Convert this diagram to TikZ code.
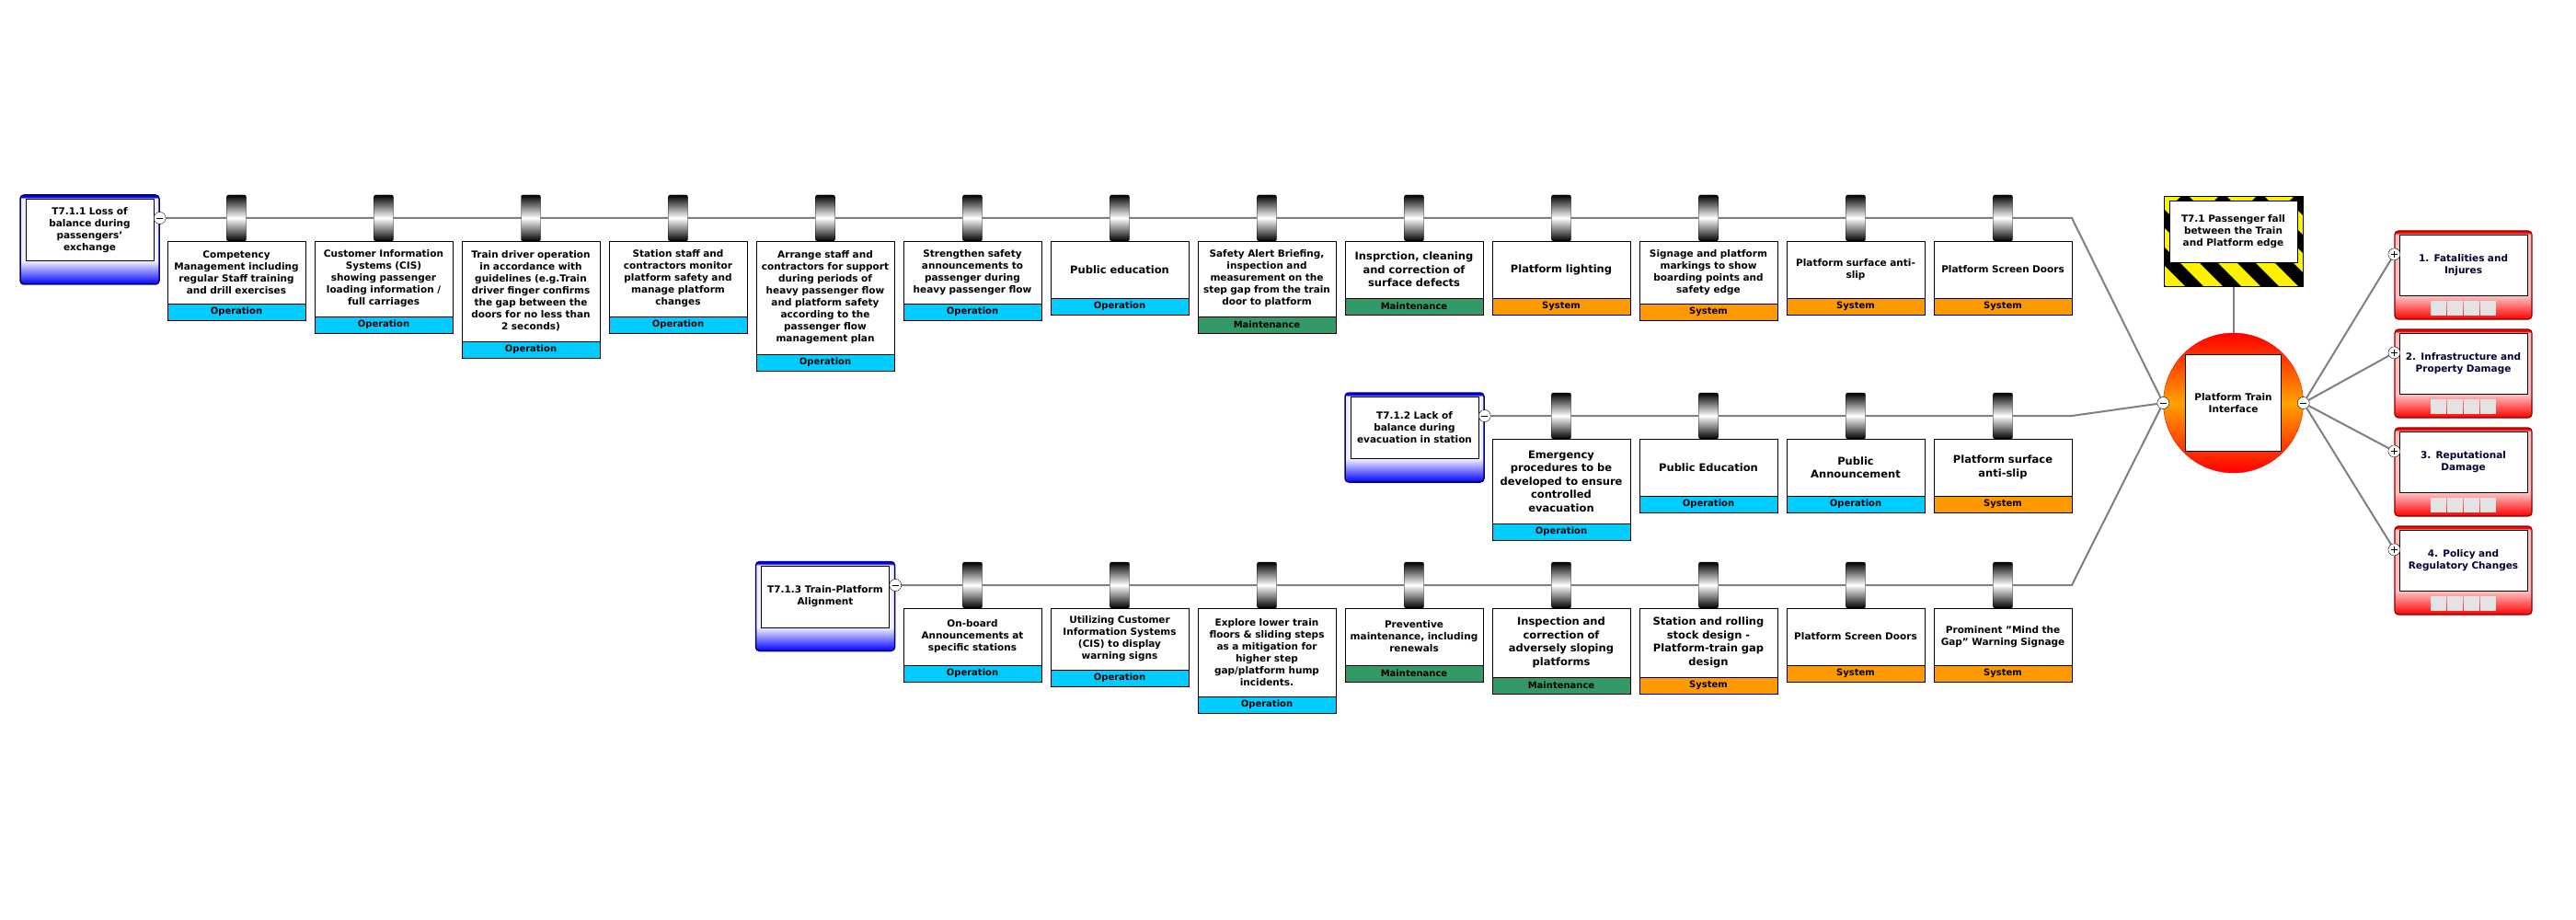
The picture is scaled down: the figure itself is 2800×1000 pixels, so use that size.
\documentclass[tikz,border=0pt]{standalone}
\usepackage{fontspec}
\setmainfont{DejaVu Sans}
\usepackage{xcolor}
\usetikzlibrary{positioning,backgrounds}

\definecolor{opcyan}{HTML}{00CCFF}
\definecolor{mtgreen}{HTML}{339966}
\definecolor{sysorange}{HTML}{FF9900}
\definecolor{wiregray}{HTML}{808080}
\definecolor{topmid}{HTML}{FFA200}
\definecolor{conseqink}{HTML}{000033}

\pgfdeclareverticalshading{threatshade}{100bp}{color(0bp)=(blue); color(25bp)=(blue); color(38bp)=(blue!6); color(73bp)=(blue!6); color(74bp)=(blue); color(100bp)=(blue)}
\pgfdeclareverticalshading{conseqshade}{100bp}{color(0bp)=(red); color(25bp)=(red); color(38bp)=(red!25); color(73bp)=(red!25); color(74bp)=(red); color(100bp)=(red)}

\begin{document}
\begin{tikzpicture}[
    x=1pt, y=-1pt,
    wire/.style={draw=wiregray, line width=2pt},
    drum/.style={draw, minimum width=21pt, minimum height=50pt, inner sep=0pt, outer sep=0pt,
      rounded corners=2pt, top color=black, bottom color=black, middle color=white},
    ctrl/.style={draw, fill=white, text width=144pt, minimum height=#1, inner sep=3pt, outer sep=0pt,
      align=center, font=\bfseries\fontsize{10.5}{13}\selectfont},
    ctrl/.default=62pt,
    bigtext/.style={font=\bfseries\fontsize{11.5}{14.5}\selectfont},
    tagbox/.style={draw, fill=#1, minimum width=150pt, minimum height=18pt, inner sep=0pt, outer sep=0pt,
      font=\bfseries\fontsize{10}{12}\selectfont},
    oper/.style={tagbox=opcyan},
    maint/.style={tagbox=mtgreen},
    sysm/.style={tagbox=sysorange},
    threat/.style={draw=blue!45!black, line width=1.5pt, rounded corners=4pt, shading=threatshade,
      minimum width=151pt, minimum height=97pt, inner sep=0pt},
    threattxt/.style={draw, fill=white, text width=133pt, minimum height=67pt, inner sep=3pt, outer sep=0pt,
      align=center, font=\bfseries\fontsize{10.5}{13}\selectfont},
    hazard/.style={draw, line width=1pt, fill=yellow, minimum width=151pt, minimum height=98pt, inner sep=0pt,
      path picture={\foreach \s in {0,...,7}
        \draw[black, line width=14pt] ([xshift=\s*41pt-105pt]path picture bounding box.north west) -- ++(110pt,-110pt);}},
    topevent/.style={circle, draw=red, minimum size=152pt, inner sep=0pt,
      top color=red, bottom color=red, middle color=topmid},
    toptxt/.style={draw, fill=white, minimum width=104pt, minimum height=105pt, inner sep=2pt,
      align=center, font=\bfseries\fontsize{10.5}{13}\selectfont},
    conseq/.style={draw=red!50!black, line width=1.2pt, rounded corners=4pt, shading=conseqshade,
      minimum width=149pt, minimum height=96pt, inner sep=0pt,
      path picture={\foreach \i in {0,...,3}
        \fill[gray!22, sharp corners] ([xshift=\i*18pt-35.5pt, yshift=4pt]path picture bounding box.south) rectangle ++(17pt,16pt);}},
    conseqtxt/.style={draw, fill=white, text width=133pt, minimum height=66pt, inner sep=3pt, outer sep=0pt,
      align=center, text=conseqink, font=\bfseries\fontsize{10.5}{13}\selectfont},
    collapse/.style={circle, draw, fill=white, minimum size=13pt, inner sep=0pt,
      path picture={\draw ([xshift=3pt]path picture bounding box.west) -- ([xshift=-3pt]path picture bounding box.east);}},
    expand/.style={circle, draw, fill=white, minimum size=13pt, inner sep=0pt,
      path picture={\draw ([xshift=3pt]path picture bounding box.west) -- ([xshift=-3pt]path picture bounding box.east);
        \draw ([yshift=-3pt]path picture bounding box.north) -- ([yshift=3pt]path picture bounding box.south);}},
  ]
  \begin{scope}[on background layer]
    \fill[white] (0,0) rectangle (2800,1000);
  \end{scope}
  \useasboundingbox (0,0) rectangle (2800,1000);

  % Threat T7.1.1 and its barriers
  \node[threat] (t1) at (97.5,260.5) {};
  \node[threattxt, below=5pt of t1.north] (t1txt) {T7.1.1 Loss of\\balance during\\passengers'\\exchange};

  \node[drum] (a1) at (257,237) {};
  \node[ctrl=68pt, below=0pt of a1] (a1box) {Competency\\Management including\\regular Staff training\\and drill exercises};
  \node[oper, below=0pt of a1box] (a1tag) {Operation};

  \node[drum] (a2) at (417,237) {};
  \node[ctrl=82pt, below=0pt of a2] (a2box) {Customer Information\\Systems (CIS)\\showing passenger\\loading information /\\full carriages};
  \node[oper, below=0pt of a2box] (a2tag) {Operation};

  \node[drum] (a3) at (577,237) {};
  \node[ctrl=109pt, below=0pt of a3] (a3box) {Train driver operation\\in accordance with\\guidelines (e.g.Train\\driver finger confirms\\the gap between the\\doors for no less than\\2 seconds)};
  \node[oper, below=0pt of a3box] (a3tag) {Operation};

  \node[drum] (a4) at (737,237) {};
  \node[ctrl=82pt, below=0pt of a4] (a4box) {Station staff and\\contractors monitor\\platform safety and\\manage platform\\changes};
  \node[oper, below=0pt of a4box] (a4tag) {Operation};

  \node[drum] (a5) at (897,237) {};
  \node[ctrl=123pt, below=0pt of a5] (a5box) {Arrange staff and\\contractors for support\\during periods of\\heavy passenger flow\\and platform safety\\according to the\\passenger flow\\management plan};
  \node[oper, below=0pt of a5box] (a5tag) {Operation};

  \node[drum] (a6) at (1057,237) {};
  \node[ctrl=68pt, below=0pt of a6] (a6box) {Strengthen safety\\announcements to\\passenger during\\heavy passenger flow};
  \node[oper, below=0pt of a6box] (a6tag) {Operation};

  \node[drum] (a7) at (1217,237) {};
  \node[ctrl, bigtext, below=0pt of a7] (a7box) {Public education};
  \node[oper, below=0pt of a7box] (a7tag) {Operation};

  \node[drum] (a8) at (1377,237) {};
  \node[ctrl=82pt, below=0pt of a8] (a8box) {Safety Alert Briefing,\\inspection and\\measurement on the\\step gap from the train\\door to platform};
  \node[maint, below=0pt of a8box] (a8tag) {Maintenance};

  \node[drum] (a9) at (1537,237) {};
  \node[ctrl, bigtext, below=0pt of a9] (a9box) {Insprction, cleaning\\and correction of\\surface defects};
  \node[maint, below=0pt of a9box] (a9tag) {Maintenance};

  \node[drum] (a10) at (1697,237) {};
  \node[ctrl, bigtext, below=0pt of a10] (a10box) {Platform lighting};
  \node[sysm, below=0pt of a10box] (a10tag) {System};

  \node[drum] (a11) at (1857,237) {};
  \node[ctrl=68pt, below=0pt of a11] (a11box) {Signage and platform\\markings to show\\boarding points and\\safety edge};
  \node[sysm, below=0pt of a11box] (a11tag) {System};

  \node[drum] (a12) at (2017,237) {};
  \node[ctrl, below=0pt of a12] (a12box) {Platform surface anti-\\slip};
  \node[sysm, below=0pt of a12box] (a12tag) {System};

  \node[drum] (a13) at (2177,237) {};
  \node[ctrl, below=0pt of a13] (a13box) {Platform Screen Doors};
  \node[sysm, below=0pt of a13box] (a13tag) {System};

  % Threat T7.1.2 and its barriers
  \node[threat] (t2) at (1537.5,475.5) {};
  \node[threattxt, below=5pt of t2.north] (t2txt) {T7.1.2 Lack of\\balance during\\evacuation in station};

  \node[drum] (b1) at (1697,452) {};
  \node[ctrl=92pt, bigtext, below=0pt of b1] (b1box) {Emergency\\procedures to be\\developed to ensure\\controlled\\evacuation};
  \node[oper, below=0pt of b1box] (b1tag) {Operation};

  \node[drum] (b2) at (1857,452) {};
  \node[ctrl, bigtext, below=0pt of b2] (b2box) {Public Education};
  \node[oper, below=0pt of b2box] (b2tag) {Operation};

  \node[drum] (b3) at (2017,452) {};
  \node[ctrl, bigtext, below=0pt of b3] (b3box) {Public\\Announcement};
  \node[oper, below=0pt of b3box] (b3tag) {Operation};

  \node[drum] (b4) at (2177,452) {};
  \node[ctrl, bigtext, below=0pt of b4] (b4box) {Platform surface\\anti-slip};
  \node[sysm, below=0pt of b4box] (b4tag) {System};

  % Threat T7.1.3 and its barriers
  \node[threat] (t3) at (897,659) {};
  \node[threattxt, below=5pt of t3.north] (t3txt) {T7.1.3 Train-Platform\\Alignment};

  \node[drum] (c1) at (1057,636) {};
  \node[ctrl, below=0pt of c1] (c1box) {On-board\\Announcements at\\specific stations};
  \node[oper, below=0pt of c1box] (c1tag) {Operation};

  \node[drum] (c2) at (1217,636) {};
  \node[ctrl=67pt, below=0pt of c2] (c2box) {Utilizing Customer\\Information Systems\\(CIS) to display\\warning signs};
  \node[oper, below=0pt of c2box] (c2tag) {Operation};

  \node[drum] (c3) at (1377,636) {};
  \node[ctrl=96pt, below=0pt of c3] (c3box) {Explore lower train\\floors \& sliding steps\\as a mitigation for\\higher step\\gap/platform hump\\incidents.};
  \node[oper, below=0pt of c3box] (c3tag) {Operation};

  \node[drum] (c4) at (1537,636) {};
  \node[ctrl, below=0pt of c4] (c4box) {Preventive\\maintenance, including\\renewals};
  \node[maint, below=0pt of c4box] (c4tag) {Maintenance};

  \node[drum] (c5) at (1697,636) {};
  \node[ctrl=75pt, bigtext, below=0pt of c5] (c5box) {Inspection and\\correction of\\adversely sloping\\platforms};
  \node[maint, below=0pt of c5box] (c5tag) {Maintenance};

  \node[drum] (c6) at (1857,636) {};
  \node[ctrl=75pt, bigtext, below=0pt of c6] (c6box) {Station and rolling\\stock design -\\Platform-train gap\\design};
  \node[sysm, below=0pt of c6box] (c6tag) {System};

  \node[drum] (c7) at (2017,636) {};
  \node[ctrl, below=0pt of c7] (c7box) {Platform Screen Doors};
  \node[sysm, below=0pt of c7box] (c7tag) {System};

  \node[drum] (c8) at (2177,636) {};
  \node[ctrl, below=0pt of c8] (c8box) {Prominent "Mind the\\Gap" Warning Signage};
  \node[sysm, below=0pt of c8box] (c8tag) {System};

  % Hazard and top event
  \node[hazard] (haz) at (2427.5,263) {};
  \node[threattxt, below=5pt of haz.north] (haztxt) {T7.1 Passenger fall\\between the Train\\and Platform edge};
  \node[topevent] (top) at (2427.5,438) {};
  \node[toptxt] (toptxt) at (top) {Platform Train\\Interface};

  % Consequences
  \node[conseq] (e1) at (2677.5,299) {};
  \node[conseqtxt, below=5pt of e1.north] (e1txt) {1. Fatalities and\\Injures};
  \node[conseq] (e2) at (2677.5,406) {};
  \node[conseqtxt, below=5pt of e2.north] (e2txt) {2. Infrastructure and\\Property Damage};
  \node[conseq] (e3) at (2677.5,513) {};
  \node[conseqtxt, below=5pt of e3.north] (e3txt) {3. Reputational\\Damage};
  \node[conseq] (e4) at (2677.5,620) {};
  \node[conseqtxt, below=5pt of e4.north] (e4txt) {4. Policy and\\Regulatory Changes};

  % Collapse / expand knobs
  \node[collapse] (t1k) at (t1.east |- a1) {};
  \node[collapse] (t2k) at (t2.east |- b1) {};
  \node[collapse] (t3k) at (t3.east |- c1) {};
  \node[collapse] (topl) at (top.west) {};
  \node[collapse] (topr) at (top.east) {};
  \node[expand] (e1k) at ([yshift=-26pt]e1.north west) {};
  \node[expand] (e2k) at ([yshift=-26pt]e2.north west) {};
  \node[expand] (e3k) at ([yshift=-26pt]e3.north west) {};
  \node[expand] (e4k) at ([yshift=-26pt]e4.north west) {};

  \coordinate (aturn) at (a13box.east |- a13);
  \coordinate (bturn) at (b4box.east |- b4);
  \coordinate (cturn) at (c8box.east |- c8);

  % Connectors
  \begin{scope}[on background layer]
    \draw[wire] (t1k) -- (aturn) -- (topl);
    \draw[wire] (t2k) -- (bturn) -- (topl);
    \draw[wire] (t3k) -- (cturn) -- (topl);
    \draw[wire] (haz) -- (top);
    \draw[wire] (topr) -- (e1k);
    \draw[wire] (topr) -- (e2k);
    \draw[wire] (topr) -- (e3k);
    \draw[wire] (topr) -- (e4k);
  \end{scope}
\end{tikzpicture}
\end{document}
